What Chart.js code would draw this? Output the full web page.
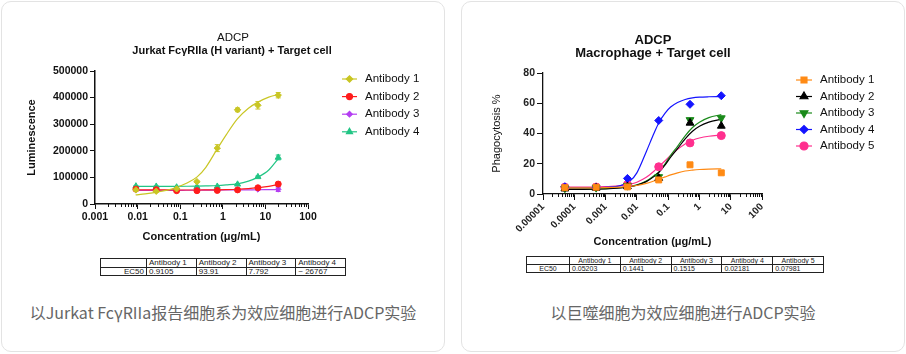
<!DOCTYPE html>
<html>
<head>
<meta charset="utf-8">
<script src="https://cdn.jsdelivr.net/npm/chart.js"></script>
<style>
  body { margin: 0; width: 906px; height: 354px; background: #fff; position: relative; overflow: hidden; }
  .card { position: absolute; top: 1px; width: 444px; height: 351px; box-sizing: border-box;
          border: 1px solid #e3e3e3; border-radius: 10px; background: #fff; }
  canvas { position: absolute; top: 0; }
  .caption { position: absolute; top: 300px; width: 444px; text-align: center;
             font: 16px/24px "Noto Sans CJK SC", sans-serif; color: #666; }
  table.ec { position: absolute; border-collapse: collapse; table-layout: fixed;
             font-family: "Liberation Sans", Arial, sans-serif; color: #222; }
  table.ec td { border: 1px solid #222; padding: 0 2px; white-space: nowrap; overflow: hidden; }
  #tL { left: 100px; top: 258px; width: 246px; font-size: 8px; }
  #tL td { height: 7.5px; line-height: 7.5px; }
  #tR { left: 526px; top: 256px; width: 298px; font-size: 7px; }
  #tR td { height: 7px; line-height: 7px; text-align: left; }
  #tR tr:first-child td { text-align: center; }
</style>
</head>
<body>
<div class="card" style="left:1px"></div>
<div class="card" style="left:461px"></div>
<canvas id="chartL" width="445" height="250" style="left:0"></canvas>
<canvas id="chartR" width="445" height="250" style="left:461px"></canvas>
<table class="ec" id="tL"></table>
<table class="ec" id="tR"></table>
<div class="caption" style="left:1px">以Jurkat FcγRIIa报告细胞系为效应细胞进行ADCP实验</div>
<div class="caption" style="left:461px">以巨噬细胞为效应细胞进行ADCP实验</div>
<script>
// ---- left chart: Jurkat reporter ----
const leftNames = ['Antibody 1', 'Antibody 2', 'Antibody 3', 'Antibody 4'];
const leftConc = [0.00914, 0.0274, 0.0823, 0.247, 0.741, 2.22, 6.67, 20];
const leftAb1 = [53000, 48000, 57000, 84000, 210000, 354000, 371000, 409000];
const leftAb2 = [56000, 54000, 50000, 50000, 51000, 53000, 61000, 75000];
const leftAb3 = [52000, 52000, 53000, 52000, 52000, 54000, 55000, 55000];
const leftAb4 = [67000, 66000, 63000, 65000, 66000, 74000, 102000, 175000];
const leftErr1 = [3000, 2000, 3000, 3000, 13000, 7000, 14000, 10000];
const leftErr2 = [2000, 2000, 2000, 2000, 2000, 2000, 4000, 7000];
const leftErr3 = [0, 0, 0, 0, 0, 0, 3000, 8000];
const leftErr4 = [2000, 2000, 0, 0, 0, 2000, 3000, 9000];
// fitted curves
const leftFitConc = [0.009, 0.015, 0.027, 0.05, 0.08, 0.14, 0.25, 0.4, 0.74, 1.2, 2.2, 4, 6.7, 12, 20];
const leftFit1 = [34000, 38000, 44000, 52000, 62000, 78000, 102000, 138000, 207000, 260000, 320000, 360000, 383000, 402000, 412000];
const leftFit2 = [53000, 53000, 53000, 52800, 52700, 52600, 52600, 52800, 53200, 54000, 55500, 58000, 61500, 66500, 73000];
const leftFit3 = [51000, 51000, 51200, 51300, 51400, 51600, 51800, 52000, 52300, 52600, 53000, 53300, 53600, 53800, 54000];
const leftFit4 = [66000, 66000, 66100, 66200, 66400, 66700, 67200, 68000, 69500, 72000, 76000, 86000, 101000, 128000, 170000];
const leftXTicks = [0.001, 0.01, 0.1, 1, 10, 100];
const leftXTickLabels = ['0.001', '0.01', '0.1', '1', '10', '100'];
const leftYTicks = [0, 100000, 200000, 300000, 400000, 500000];
const leftEC50 = ['0.9105', '93.91', '7.792', '~ 26767'];

// ---- right chart: macrophage ----
const rightNames = ['Antibody 1', 'Antibody 2', 'Antibody 3', 'Antibody 4', 'Antibody 5'];
const rightConc = [0.00005, 0.0005, 0.005, 0.05, 0.5, 5];
const rightAb1 = [4.2, 4.5, 4.7, 9.3, 19.3, 14.0];
const rightAb2 = [3.5, 4.0, 5.0, 10.5, 47.0, 45.0];
const rightAb3 = [3.8, 4.2, 5.5, 11.3, 49.0, 50.2];
const rightAb4 = [4.8, 4.6, 10.3, 48.6, 59.3, 65.0];
const rightAb5 = [4.5, 4.6, 6.2, 18.0, 33.8, 38.6];
const rightFitConc = [0.00005, 0.0002, 0.001, 0.003, 0.006, 0.01, 0.02, 0.035, 0.05, 0.08, 0.12, 0.2, 0.35, 0.6, 1, 2, 5];
const rightFit1 = [4.0, 4.0, 4.2, 4.6, 5.1, 5.6, 7.0, 8.6, 9.8, 11.3, 12.6, 14.0, 15.2, 15.8, 16.2, 16.5, 16.7];
const rightFit2 = [3.0, 3.0, 3.3, 4.0, 4.8, 5.8, 8.2, 11.5, 14.2, 19.2, 24.3, 30.0, 36.5, 41.5, 44.8, 47.5, 49.5];
const rightFit3 = [3.3, 3.3, 3.6, 4.2, 5.0, 6.0, 8.5, 12.0, 14.5, 20.0, 25.5, 31.5, 38.5, 44.0, 47.5, 50.5, 52.5];
const rightFit4 = [4.0, 4.0, 4.4, 5.5, 8.5, 14.0, 28.0, 40.0, 47.0, 53.5, 57.5, 60.5, 62.5, 63.5, 64.0, 64.3, 64.5];
const rightFit5 = [4.5, 4.5, 4.9, 5.5, 6.5, 7.8, 11.0, 15.0, 18.0, 22.0, 25.5, 29.5, 33.0, 35.5, 37.0, 38.2, 39.0];
const rightXTicks = [0.00001, 0.0001, 0.001, 0.01, 0.1, 1, 10, 100];
const rightXTickLabels = ['0.00001', '0.0001', '0.001', '0.01', '0.1', '1', '10', '100'];
const rightYTicks = [0, 20, 40, 60, 80];
const rightEC50 = ['0.05203', '0.1441', '0.1515', '0.02181', '0.07981'];

Chart.defaults.font.family = "'Liberation Sans', Arial, sans-serif";
Chart.defaults.color = '#111';

function pts(xs, ys) {
    return xs.map((x, i) => ({x: x, y: ys[i]}));
}

function buildSets(names, conc, values, errors, fitConc, fits, look) {
    const points = names.map((n, i) => ({
        label: n,
        data: pts(conc, values[i]),
        errors: errors ? errors[i] : null,
        borderColor: look.colors[i],
        backgroundColor: look.colors[i],
        pointStyle: look.styles[i],
        pointRadius: look.radius[i],
        pointRotation: look.rotation ? look.rotation[i] : 0,
        pointBorderWidth: 1,
        showLine: false
    }));
    const curves = names.map((n, i) => ({
        label: n + ' fit',
        data: pts(fitConc, fits[i]),
        showLine: true,
        borderColor: look.colors[i],
        borderWidth: 1.2,
        pointRadius: 0,
        cubicInterpolationMode: 'monotone',
        fill: false
    }));
    return points.concat(curves);
}

// error bars under the markers
const errorBars = {
    id: 'errorBars',
    beforeDatasetsDraw(chart) {
        const ctx = chart.ctx;
        const ys = chart.scales.y;
        chart.data.datasets.forEach((ds, i) => {
            if (!ds.errors) return;
            const meta = chart.getDatasetMeta(i);
            ctx.save();
            ctx.strokeStyle = ds.borderColor;
            ctx.lineWidth = 1;
            ds.data.forEach((p, j) => {
                const e = ds.errors[j];
                if (!e) return;
                const x = meta.data[j].x;
                const top = ys.getPixelForValue(p.y + e);
                const bot = ys.getPixelForValue(p.y - e);
                ctx.beginPath();
                ctx.moveTo(x, top); ctx.lineTo(x, bot);
                ctx.moveTo(x - 2.5, top); ctx.lineTo(x + 2.5, top);
                ctx.moveTo(x - 2.5, bot); ctx.lineTo(x + 2.5, bot);
                ctx.stroke();
            });
            ctx.restore();
        });
    }
};

// titles, minor log ticks and the line+marker legend
const decor = {
    id: 'decor',
    afterDraw(chart, args, o) {
        const ctx = chart.ctx;
        ctx.save();
        o.titles.forEach(t => {
            ctx.font = t.font;
            ctx.fillStyle = '#111';
            ctx.textAlign = 'center';
            ctx.textBaseline = 'middle';
            ctx.fillText(t.text, t.x, t.y);
        });
        const xs = chart.scales.x;
        const bottom = chart.chartArea.bottom;
        ctx.strokeStyle = '#111';
        ctx.lineWidth = 1;
        xs.ticks.forEach((t, i) => {
            if (i === xs.ticks.length - 1) return;
            for (let m = 2; m < 10; m++) {
                const px = Math.round(xs.getPixelForValue(t.value * m)) + 0.5;
                ctx.beginPath();
                ctx.moveTo(px, bottom);
                ctx.lineTo(px, bottom + o.minorLen);
                ctx.stroke();
            }
        });
        const lg = o.legend;
        chart.data.datasets.slice(0, lg.count).forEach((ds, i) => {
            const y = lg.y + i * lg.dy;
            ctx.strokeStyle = ds.borderColor;
            ctx.fillStyle = ds.backgroundColor;
            ctx.lineWidth = 1.2;
            ctx.beginPath();
            ctx.moveTo(lg.x, y);
            ctx.lineTo(lg.x + lg.w, y);
            ctx.stroke();
            Chart.helpers.drawPoint(ctx, {pointStyle: ds.pointStyle, radius: ds.pointRadius,
                rotation: ds.pointRotation || 0, borderWidth: 1}, lg.x + lg.w / 2, y);
            ctx.fillStyle = '#111';
            ctx.font = lg.font;
            ctx.textAlign = 'left';
            ctx.textBaseline = 'middle';
            ctx.fillText(ds.label, lg.textX, y);
        });
        ctx.restore();
    }
};

function axes(cfg) {
    return {
        x: {
            type: 'logarithmic', min: cfg.xTicks[0], max: cfg.xTicks[cfg.xTicks.length - 1],
            afterBuildTicks: s => { s.ticks = cfg.xTicks.map(v => ({value: v, major: true})); },
            afterFit: s => { s.height = cfg.xHeight; },
            border: {color: '#111', width: cfg.axisWidth},
            grid: {drawOnChartArea: false, tickLength: cfg.tickLen, tickColor: '#111', tickWidth: 1},
            ticks: {autoSkip: false, minRotation: cfg.rot, maxRotation: cfg.rot, padding: cfg.xPad,
                    color: cfg.tickColor, font: {size: cfg.xTickSize, weight: 'bold'},
                    callback: (v, i) => cfg.xLabels[i]},
            title: {display: true, text: 'Concentration (μg/mL)', color: '#111',
                    font: {size: 11, weight: 'bold'}, padding: {top: 0, bottom: cfg.xTitlePad}}
        },
        y: {
            min: cfg.yTicks[0], max: cfg.yTicks[cfg.yTicks.length - 1],
            afterBuildTicks: s => { s.ticks = cfg.yTicks.map(v => ({value: v})); },
            afterFit: s => { s.width = cfg.yWidth; },
            border: {color: '#111', width: cfg.axisWidth},
            grid: {drawOnChartArea: false, tickLength: cfg.yTickLen, tickColor: '#111', tickWidth: 1},
            ticks: {padding: 2, color: cfg.tickColor, font: {size: 10.5, weight: 'bold'},
                    callback: v => String(v)},
            title: {display: true, text: cfg.yTitle, color: '#111',
                    font: {size: cfg.yTitleSize, weight: cfg.yTitleWeight}, padding: {top: cfg.yTitlePad, bottom: 0}}
        }
    };
}

new Chart(document.getElementById('chartL').getContext('2d'), {
    type: 'scatter',
    data: {
        datasets: buildSets(leftNames, leftConc, [leftAb1, leftAb2, leftAb3, leftAb4],
            [leftErr1, leftErr2, leftErr3, leftErr4], leftFitConc, [leftFit1, leftFit2, leftFit3, leftFit4],
            {colors: ['#c9c624', '#ff1c1c', '#b43ef2', '#22c585'],
             styles: ['rectRot', 'circle', 'rectRot', 'triangle'], radius: [3.2, 3, 2.8, 3.5]})
    },
    options: {
        responsive: false, animation: false, events: [],
        layout: {padding: {left: 0, top: 71, right: 137, bottom: 0}},
        plugins: {
            legend: {display: false}, tooltip: {enabled: false},
            decor: {
                titles: [
                    {text: 'ADCP', x: 233, y: 38, font: '11.5px "Liberation Sans", Arial'},
                    {text: 'Jurkat FcγRIIa (H variant) + Target cell', x: 232, y: 50.5, font: 'bold 11px "Liberation Sans", Arial'}
                ],
                minorLen: 3,
                legend: {count: 4, x: 342, w: 15, y: 79, dy: 17.6, textX: 365, font: '11.5px "Liberation Sans", Arial'}
            }
        },
        scales: axes({xTicks: leftXTicks, xLabels: leftXTickLabels, yTicks: leftYTicks, xHeight: 46, yWidth: 95,
            axisWidth: 1.5, tickLen: 5, yTickLen: 5, rot: 0, xPad: 2, tickColor: '#111', xTickSize: 10.5,
            xTitlePad: 6, yTitle: 'Luminescence', yTitleSize: 11, yTitleWeight: 'bold', yTitlePad: 25})
    },
    plugins: [errorBars, decor]
});

new Chart(document.getElementById('chartR').getContext('2d'), {
    type: 'scatter',
    data: {
        datasets: buildSets(rightNames, rightConc, [rightAb1, rightAb2, rightAb3, rightAb4, rightAb5],
            null, rightFitConc, [rightFit1, rightFit2, rightFit3, rightFit4, rightFit5],
            {colors: ['#ff8a14', '#000000', '#1a8a1a', '#1414ff', '#ff2f8e'],
             styles: ['rect', 'triangle', 'triangle', 'rectRot', 'circle'], radius: [4.2, 4.5, 4.5, 4, 4],
             rotation: [0, 0, 180, 0, 0]})
    },
    options: {
        responsive: false, animation: false, events: [],
        layout: {padding: {left: 0, top: 73, right: 144, bottom: 0}},
        plugins: {
            legend: {display: false}, tooltip: {enabled: false},
            decor: {
                titles: [
                    {text: 'ADCP', x: 192, y: 40, font: 'bold 13px "Liberation Sans", Arial'},
                    {text: 'Macrophage + Target cell', x: 192, y: 53, font: 'bold 13px "Liberation Sans", Arial'}
                ],
                minorLen: 3,
                legend: {count: 5, x: 335, w: 16, y: 80, dy: 16.5, textX: 359, font: '11.5px "Liberation Sans", Arial'}
            }
        },
        scales: axes({xTicks: rightXTicks, xLabels: rightXTickLabels, yTicks: rightYTicks, xHeight: 56, yWidth: 82,
            axisWidth: 1.3, tickLen: 6, yTickLen: 6, rot: 45, xPad: 1, tickColor: '#222', xTickSize: 10,
            xTitlePad: 1, yTitle: 'Phagocytosis %', yTitleSize: 11, yTitleWeight: 'normal', yTitlePad: 29})
    },
    plugins: [errorBars, decor]
});

// EC50 tables
function fillTable(id, names, values, firstWidth) {
    const t = document.getElementById(id);
    const head = document.createElement('tr');
    const row = document.createElement('tr');
    const blank = document.createElement('td');
    blank.style.width = firstWidth + 'px';
    head.appendChild(blank);
    const lab = document.createElement('td');
    lab.textContent = 'EC50';
    lab.style.textAlign = id === 'tL' ? 'right' : 'center';
    row.appendChild(lab);
    names.forEach((n, i) => {
        const h = document.createElement('td');
        h.textContent = n;
        head.appendChild(h);
        const c = document.createElement('td');
        c.textContent = values[i];
        row.appendChild(c);
    });
    t.appendChild(head);
    t.appendChild(row);
}
fillTable('tL', leftNames, leftEC50, 41);
fillTable('tR', rightNames, rightEC50, 38);
</script>
</body>
</html>
